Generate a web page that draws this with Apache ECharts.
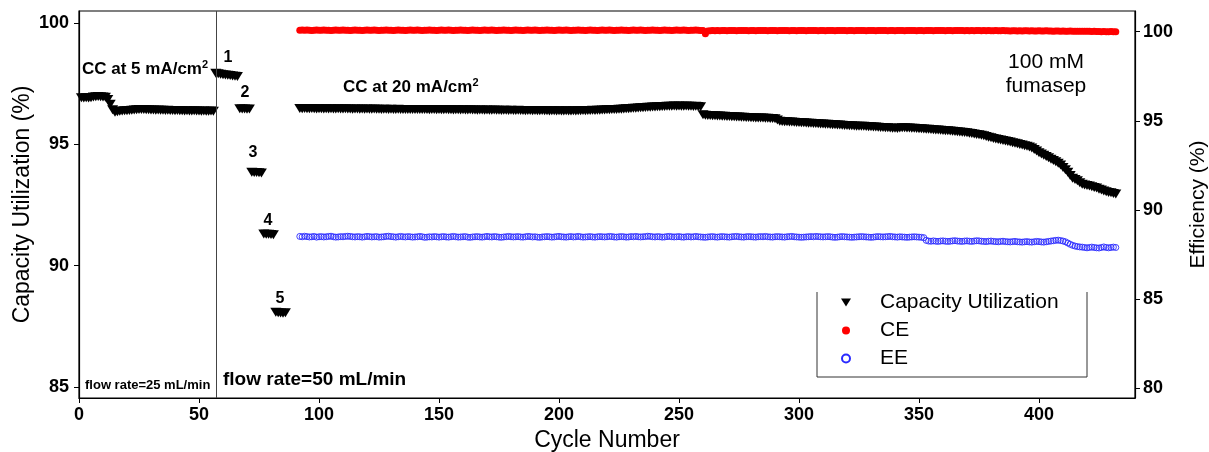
<!DOCTYPE html>
<html>
<head>
<meta charset="utf-8">
<script src="https://cdn.jsdelivr.net/npm/echarts@6/dist/echarts.min.js"></script>
<style>
  html, body { margin: 0; padding: 0; background: #fff; overflow: hidden; width: 100%; height: 100%; }
  #chart { width: 1209px; height: 452px; position: absolute; left: 0; top: 0; }
</style>
</head>
<body>
<div id="chart"></div>
<script>
// Cycling of a 100 mM cell with a fumasep membrane.
// Capacity utilization (left axis) and coulombic / energy efficiency (right axis).

const FONT = '"Liberation Sans", Arial, sans-serif';

// Tick labels
const xTicks = [0, 50, 100, 150, 200, 250, 300, 350, 400];
const leftTicks = [85, 90, 95, 100];
const rightTicks = [80, 85, 90, 95, 100];

// Stage 1: CC at 5 mA/cm², flow rate 25 mL/min (cycles 1-56)
const stage1Start = 1;
const stage1CU = [
  96.92, 96.91, 96.92, 96.91, 96.92, 96.95, 96.96, 96.97, 96.96, 96.95,
  96.94, 96.85, 96.65, 96.42, 96.32, 96.34, 96.36, 96.37, 96.38, 96.38,
  96.39, 96.40, 96.41, 96.42, 96.43, 96.44, 96.43, 96.42, 96.42, 96.41,
  96.41, 96.40, 96.41, 96.40, 96.40, 96.39, 96.40, 96.39, 96.39, 96.38,
  96.39, 96.38, 96.38, 96.37, 96.38, 96.37, 96.37, 96.38, 96.37, 96.37,
  96.36, 96.37, 96.36, 96.36, 96.37, 96.36
];

// Rate steps 1-5 at 50 mL/min
const stepStarts = [57, 67, 72, 77, 82];
const stepCU = [
  [97.93, 97.91, 97.89, 97.87, 97.86, 97.85, 97.84, 97.82, 97.81, 97.79],
  [96.47, 96.46, 96.46, 96.45, 96.46],
  [93.85, 93.84, 93.84, 93.83, 93.82],
  [91.30, 91.29, 91.29, 91.28, 91.27],
  [88.08, 88.06, 88.05, 88.04, 88.06]
];

// Long run: CC at 20 mA/cm², 50 mL/min (cycles 92-432)
const mainStart = 92;
const mainCU = [
  96.48, 96.47, 96.48, 96.47, 96.47, 96.48, 96.47, 96.46, 96.47, 96.47,
  96.46, 96.47, 96.46, 96.47, 96.46, 96.46, 96.47, 96.46, 96.46, 96.47,
  96.46, 96.46, 96.45, 96.46, 96.46, 96.45, 96.46, 96.45, 96.46, 96.45,
  96.45, 96.46, 96.45, 96.45, 96.44, 96.45, 96.45, 96.44, 96.45, 96.44,
  96.44, 96.45, 96.44, 96.44, 96.43, 96.44, 96.44, 96.43, 96.44, 96.43,
  96.43, 96.44, 96.43, 96.43, 96.42, 96.43, 96.43, 96.42, 96.43, 96.42,
  96.42, 96.43, 96.42, 96.42, 96.41, 96.42, 96.42, 96.41, 96.42, 96.41,
  96.41, 96.42, 96.41, 96.41, 96.40, 96.41, 96.41, 96.40, 96.41, 96.40,
  96.40, 96.41, 96.40, 96.40, 96.39, 96.40, 96.40, 96.39, 96.40, 96.39,
  96.39, 96.40, 96.39, 96.39, 96.38, 96.39, 96.39, 96.38, 96.39, 96.38,
  96.38, 96.39, 96.38, 96.38, 96.37, 96.38, 96.38, 96.37, 96.38, 96.37,
  96.37, 96.38, 96.37, 96.37, 96.38, 96.37, 96.38, 96.38, 96.39, 96.38,
  96.39, 96.39, 96.40, 96.39, 96.40, 96.40, 96.41, 96.41, 96.42, 96.42,
  96.43, 96.43, 96.44, 96.45, 96.45, 96.46, 96.47, 96.47, 96.48, 96.49,
  96.49, 96.50, 96.51, 96.51, 96.52, 96.53, 96.53, 96.54, 96.54, 96.55,
  96.55, 96.56, 96.56, 96.57, 96.57, 96.57, 96.58, 96.57, 96.58, 96.57,
  96.57, 96.58, 96.57, 96.57, 96.56, 96.57, 96.56, 96.55, 96.22, 96.20,
  96.19, 96.19, 96.18, 96.18, 96.17, 96.17, 96.16, 96.16, 96.15, 96.15,
  96.14, 96.14, 96.13, 96.13, 96.12, 96.12, 96.11, 96.11, 96.10, 96.10,
  96.09, 96.09, 96.08, 96.08, 96.07, 96.07, 96.06, 96.06, 96.05, 96.00,
  95.95, 95.94, 95.93, 95.93, 95.92, 95.92, 95.91, 95.90, 95.90, 95.89,
  95.89, 95.88, 95.87, 95.87, 95.86, 95.86, 95.85, 95.84, 95.84, 95.83,
  95.83, 95.82, 95.81, 95.81, 95.80, 95.80, 95.79, 95.78, 95.78, 95.77,
  95.77, 95.76, 95.75, 95.75, 95.74, 95.74, 95.73, 95.72, 95.72, 95.71,
  95.71, 95.70, 95.69, 95.69, 95.68, 95.68, 95.67, 95.66, 95.66, 95.65,
  95.67, 95.68, 95.68, 95.67, 95.67, 95.66, 95.66, 95.65, 95.64, 95.64,
  95.63, 95.62, 95.62, 95.61, 95.60, 95.59, 95.59, 95.58, 95.57, 95.56,
  95.56, 95.55, 95.54, 95.53, 95.52, 95.51, 95.50, 95.49, 95.48, 95.46,
  95.45, 95.43, 95.41, 95.39, 95.37, 95.35, 95.32, 95.29, 95.27, 95.24,
  95.22, 95.20, 95.18, 95.16, 95.14, 95.12, 95.10, 95.07, 95.04, 95.02,
  94.99, 94.97, 94.94, 94.92, 94.89, 94.85, 94.79, 94.72, 94.65, 94.60,
  94.55, 94.50, 94.45, 94.38, 94.33, 94.28, 94.22, 94.15, 94.05, 93.95,
  93.85, 93.72, 93.60, 93.55, 93.50, 93.42, 93.36, 93.32, 93.30, 93.28,
  93.25, 93.22, 93.20, 93.15, 93.12, 93.08, 93.05, 93.02, 93.00, 92.97,
  92.95
];

const mainCE = [
  100.08, 100.09, 100.08, 100.09, 100.08, 100.07, 100.08, 100.09, 100.08, 100.08,
  100.09, 100.08, 100.08, 100.07, 100.08, 100.09, 100.08, 100.08, 100.09, 100.08,
  100.08, 100.07, 100.08, 100.09, 100.08, 100.08, 100.07, 100.08, 100.09, 100.08,
  100.08, 100.09, 100.08, 100.07, 100.08, 100.08, 100.09, 100.08, 100.08, 100.07,
  100.08, 100.09, 100.08, 100.08, 100.07, 100.08, 100.09, 100.08, 100.08, 100.09,
  100.08, 100.07, 100.08, 100.08, 100.09, 100.08, 100.08, 100.07, 100.08, 100.09,
  100.08, 100.08, 100.09, 100.08, 100.07, 100.08, 100.08, 100.09, 100.08, 100.08,
  100.07, 100.08, 100.09, 100.08, 100.08, 100.07, 100.08, 100.09, 100.08, 100.08,
  100.09, 100.08, 100.07, 100.08, 100.08, 100.09, 100.08, 100.08, 100.07, 100.08,
  100.09, 100.08, 100.08, 100.07, 100.08, 100.09, 100.08, 100.08, 100.09, 100.08,
  100.07, 100.08, 100.08, 100.09, 100.08, 100.08, 100.07, 100.08, 100.09, 100.08,
  100.08, 100.09, 100.08, 100.07, 100.08, 100.08, 100.09, 100.08, 100.08, 100.07,
  100.08, 100.09, 100.08, 100.08, 100.07, 100.08, 100.09, 100.08, 100.08, 100.09,
  100.08, 100.07, 100.08, 100.08, 100.09, 100.08, 100.08, 100.07, 100.08, 100.09,
  100.08, 100.08, 100.09, 100.08, 100.07, 100.08, 100.08, 100.09, 100.08, 100.08,
  100.07, 100.08, 100.09, 100.08, 100.08, 100.07, 100.08, 100.09, 100.08, 100.08,
  100.09, 100.08, 100.07, 100.08, 100.08, 100.09, 100.08, 100.07, 100.06, 99.88,
  100.04, 100.05, 100.06, 100.05, 100.06, 100.05, 100.06, 100.06, 100.05, 100.06,
  100.07, 100.06, 100.05, 100.06, 100.06, 100.07, 100.06, 100.05, 100.06, 100.06,
  100.05, 100.06, 100.07, 100.06, 100.06, 100.05, 100.06, 100.07, 100.06, 100.05,
  100.06, 100.06, 100.07, 100.06, 100.05, 100.06, 100.06, 100.05, 100.06, 100.07,
  100.06, 100.05, 100.06, 100.06, 100.07, 100.06, 100.05, 100.06, 100.06, 100.05,
  100.06, 100.07, 100.06, 100.05, 100.06, 100.06, 100.07, 100.06, 100.05, 100.06,
  100.06, 100.05, 100.06, 100.07, 100.06, 100.06, 100.05, 100.06, 100.07, 100.06,
  100.05, 100.06, 100.06, 100.07, 100.06, 100.05, 100.06, 100.06, 100.05, 100.06,
  100.07, 100.06, 100.05, 100.06, 100.06, 100.07, 100.06, 100.05, 100.06, 100.06,
  100.05, 100.06, 100.07, 100.06, 100.05, 100.06, 100.06, 100.07, 100.06, 100.05,
  100.06, 100.06, 100.05, 100.06, 100.07, 100.06, 100.06, 100.05, 100.06, 100.05,
  100.06, 100.05, 100.06, 100.06, 100.05, 100.06, 100.05, 100.06, 100.05, 100.05,
  100.06, 100.05, 100.05, 100.06, 100.05, 100.05, 100.04, 100.05, 100.05, 100.04,
  100.05, 100.04, 100.05, 100.05, 100.04, 100.05, 100.04, 100.04, 100.05, 100.04,
  100.04, 100.05, 100.04, 100.04, 100.03, 100.04, 100.04, 100.03, 100.04, 100.03,
  100.03, 100.04, 100.03, 100.03, 100.02, 100.03, 100.02, 100.02, 100.03, 100.02,
  100.01, 100.02, 100.01, 100.01, 100.00, 100.01, 100.00, 100.00, 100.01, 100.00,
  100.00
];

const mainEE = [
  88.52, 88.50, 88.53, 88.51, 88.49, 88.50, 88.52, 88.48, 88.50, 88.51,
  88.49, 88.50, 88.52, 88.53, 88.50, 88.48, 88.49, 88.51, 88.50, 88.52,
  88.53, 88.52, 88.50, 88.49, 88.51, 88.50, 88.48, 88.50, 88.52, 88.51,
  88.49, 88.50, 88.51, 88.48, 88.49, 88.50, 88.52, 88.53, 88.51, 88.50,
  88.48, 88.50, 88.52, 88.50, 88.49, 88.51, 88.50, 88.48, 88.49, 88.50,
  88.52, 88.50, 88.47, 88.48, 88.50, 88.49, 88.51, 88.50, 88.48, 88.50,
  88.51, 88.49, 88.48, 88.50, 88.52, 88.50, 88.48, 88.49, 88.50, 88.51,
  88.48, 88.47, 88.49, 88.50, 88.51, 88.49, 88.48, 88.50, 88.52, 88.50,
  88.49, 88.51, 88.50, 88.48, 88.47, 88.49, 88.50, 88.52, 88.50, 88.49,
  88.50, 88.51, 88.49, 88.48, 88.50, 88.52, 88.51, 88.49, 88.50, 88.48,
  88.47, 88.49, 88.50, 88.51, 88.50, 88.48, 88.49, 88.51, 88.52, 88.50,
  88.49, 88.48, 88.50, 88.51, 88.49, 88.50, 88.52, 88.50, 88.48, 88.49,
  88.50, 88.51, 88.49, 88.48, 88.50, 88.51, 88.50, 88.49, 88.50, 88.52,
  88.51, 88.49, 88.48, 88.50, 88.51, 88.50, 88.48, 88.49, 88.51, 88.50,
  88.52, 88.50, 88.49, 88.50, 88.51, 88.53, 88.52, 88.50, 88.49, 88.51,
  88.50, 88.48, 88.49, 88.51, 88.52, 88.50, 88.49, 88.50, 88.51, 88.49,
  88.48, 88.50, 88.51, 88.49, 88.50, 88.52, 88.50, 88.49, 88.48, 88.47,
  88.49, 88.50, 88.51, 88.49, 88.48, 88.50, 88.51, 88.50, 88.49, 88.48,
  88.50, 88.51, 88.52, 88.50, 88.49, 88.48, 88.50, 88.51, 88.50, 88.49,
  88.48, 88.50, 88.51, 88.50, 88.52, 88.50, 88.49, 88.48, 88.50, 88.51,
  88.50, 88.49, 88.48, 88.50, 88.51, 88.52, 88.50, 88.49, 88.48, 88.47,
  88.48, 88.49, 88.50, 88.51, 88.50, 88.52, 88.51, 88.50, 88.49, 88.50,
  88.51, 88.50, 88.48, 88.47, 88.48, 88.50, 88.51, 88.50, 88.49, 88.48,
  88.47, 88.48, 88.49, 88.50, 88.51, 88.50, 88.49, 88.48, 88.47, 88.48,
  88.50, 88.51, 88.50, 88.49, 88.50, 88.51, 88.52, 88.50, 88.49, 88.48,
  88.50, 88.49, 88.48, 88.47, 88.48, 88.49, 88.50, 88.49, 88.48, 88.47,
  88.45, 88.30, 88.26, 88.25, 88.27, 88.25, 88.24, 88.26, 88.27, 88.25,
  88.24, 88.25, 88.27, 88.28, 88.26, 88.25, 88.24, 88.26, 88.27, 88.25,
  88.24, 88.26, 88.28, 88.27, 88.25, 88.24, 88.23, 88.25, 88.26, 88.24,
  88.23, 88.22, 88.24, 88.25, 88.23, 88.22, 88.21, 88.23, 88.24, 88.22,
  88.21, 88.20, 88.22, 88.23, 88.21, 88.20, 88.22, 88.24, 88.23, 88.21,
  88.20, 88.22, 88.24, 88.26, 88.28, 88.30, 88.31, 88.29, 88.26, 88.22,
  88.15, 88.08, 88.02, 87.98, 87.95, 87.93, 87.92, 87.90, 87.88, 87.90,
  87.92, 87.90, 87.88, 87.87, 87.90, 87.93, 87.90, 87.88, 87.90, 87.92,
  87.90
];

// Pair consecutive cycle numbers with their values
function pairs(start, values) {
  return values.map((v, i) => [start + i, v]);
}

const cuData = pairs(stage1Start, stage1CU)
  .concat(...stepCU.map((seg, k) => pairs(stepStarts[k], seg)))
  .concat(pairs(mainStart, mainCU));
const ceData = pairs(mainStart, mainCE);
const eeData = pairs(mainStart, mainEE);

const DOWN_TRIANGLE = 'path://M0,0 L10,0 L5,8 Z';

const chart = echarts.init(document.getElementById('chart'), null, { renderer: 'canvas', width: 1209, height: 452 });

const tickLabel = { fontFamily: FONT, fontSize: 18, fontWeight: 'bold', color: '#000' };
const axisName = { fontFamily: FONT, fontSize: 23, color: '#000' };

const option = {
  animation: false,
  backgroundColor: '#fff',
  textStyle: { fontFamily: FONT },
  grid: {
    left: 79, right: 74, top: 11, bottom: 54,
    outerBoundsMode: 'none', containLabel: false,
    show: true, borderColor: '#000', borderWidth: 1.2, backgroundColor: 'transparent'
  },
  xAxis: {
    type: 'value', min: 0, max: 440, interval: 50,
    name: 'Cycle Number', nameLocation: 'middle', nameGap: 31, nameMoveOverlap: false,
    nameTextStyle: axisName,
    axisLine: { show: true, lineStyle: { color: '#000', width: 1.2 } },
    axisTick: { show: true, length: 5, lineStyle: { color: '#000' }, customValues: xTicks },
    axisLabel: Object.assign({ margin: 8, customValues: xTicks }, tickLabel),
    splitLine: { show: false }
  },
  yAxis: [
    {
      type: 'value', min: 84.547, max: 100.494, position: 'left',
      name: 'Capacity Utilization (%)', nameLocation: 'middle', nameGap: 45, nameRotate: 90,
      nameMoveOverlap: false,
      nameTextStyle: axisName,
      axisLine: { show: true, lineStyle: { color: '#000', width: 1.2 } },
      axisTick: { show: true, length: 5, lineStyle: { color: '#000' }, customValues: leftTicks },
      axisLabel: Object.assign({ margin: 10, customValues: leftTicks }, tickLabel),
      splitLine: { show: false }
    },
    {
      type: 'value', min: 79.46, max: 101.16, position: 'right',
      name: 'Efficiency (%)', nameLocation: 'middle', nameGap: 53, nameRotate: 90,
      nameMoveOverlap: false,
      nameTextStyle: Object.assign({}, axisName, { fontSize: 21 }),
      axisLine: { show: true, lineStyle: { color: '#000', width: 1.2 } },
      axisTick: { show: true, length: 5, lineStyle: { color: '#000' }, customValues: rightTicks },
      axisLabel: Object.assign({ margin: 8, customValues: rightTicks }, tickLabel),
      splitLine: { show: false }
    }
  ],
  legend: {
    orient: 'vertical', left: 841, top: 292,
    padding: 0, itemGap: 7, itemWidth: 14, itemHeight: 8,
    data: [
      { name: 'Capacity Utilization', icon: DOWN_TRIANGLE },
      { name: 'CE', icon: 'circle' },
      { name: 'EE', icon: 'circle' }
    ],
    formatter: name => '{g|}' + name,
    textStyle: { fontFamily: FONT, fontSize: 21, color: '#000', rich: { g: { width: 22 } } }
  },
  series: [
    {
      name: 'CE', type: 'scatter', yAxisIndex: 1, data: ceData,
      symbol: 'circle', symbolSize: 7,
      itemStyle: { color: '#ff0000', opacity: 1 }, z: 3
    },
    {
      name: 'EE', type: 'scatter', yAxisIndex: 1, data: eeData,
      symbol: 'circle', symbolSize: 6,
      itemStyle: { color: 'rgba(255,255,255,0)', borderColor: '#2a2aff', borderWidth: 0.9, opacity: 1 }, z: 3
    },
    {
      name: 'Capacity Utilization', type: 'scatter', yAxisIndex: 0, data: cuData,
      symbol: DOWN_TRIANGLE, symbolSize: [11, 9],
      itemStyle: { color: '#000', opacity: 1 }, z: 4,
      markLine: {
        silent: true, symbol: ['none', 'none'], label: { show: false },
        lineStyle: { color: '#444', width: 1, type: 'solid' },
        data: [{ xAxis: 57 }]
      }
    }
  ],
  graphic: [
    // legend frame (open at the top)
    {
      type: 'polyline', silent: true,
      shape: { points: [[817, 292], [817, 377], [1087, 377], [1087, 292]] },
      style: { stroke: '#333', lineWidth: 1, fill: null }
    },
    {
      type: 'text', left: 82, top: 59, silent: true,
      style: {
        text: '{a|CC at 5 mA/cm}{s|2}',
        rich: {
          a: { fontFamily: FONT, fontSize: 17, fontWeight: 'bold', fill: '#000', lineHeight: 20 },
          s: { fontFamily: FONT, fontSize: 11, fontWeight: 'bold', fill: '#000', verticalAlign: 'top', lineHeight: 20 }
        }
      }
    },
    {
      type: 'text', left: 343, top: 77, silent: true,
      style: {
        text: '{a|CC at 20 mA/cm}{s|2}',
        rich: {
          a: { fontFamily: FONT, fontSize: 17, fontWeight: 'bold', fill: '#000', lineHeight: 20 },
          s: { fontFamily: FONT, fontSize: 11, fontWeight: 'bold', fill: '#000', verticalAlign: 'top', lineHeight: 20 }
        }
      }
    },
    { type: 'text', x: 228, y: 58, silent: true, style: { text: '1', fontFamily: FONT, fontSize: 16, fontWeight: 'bold', fill: '#000', align: 'center', verticalAlign: 'middle' } },
    { type: 'text', x: 245, y: 93, silent: true, style: { text: '2', fontFamily: FONT, fontSize: 16, fontWeight: 'bold', fill: '#000', align: 'center', verticalAlign: 'middle' } },
    { type: 'text', x: 253, y: 153, silent: true, style: { text: '3', fontFamily: FONT, fontSize: 16, fontWeight: 'bold', fill: '#000', align: 'center', verticalAlign: 'middle' } },
    { type: 'text', x: 268, y: 221, silent: true, style: { text: '4', fontFamily: FONT, fontSize: 16, fontWeight: 'bold', fill: '#000', align: 'center', verticalAlign: 'middle' } },
    { type: 'text', x: 280, y: 299, silent: true, style: { text: '5', fontFamily: FONT, fontSize: 16, fontWeight: 'bold', fill: '#000', align: 'center', verticalAlign: 'middle' } },
    { type: 'text', x: 1046, y: 62, silent: true, style: { text: '100 mM', fontFamily: FONT, fontSize: 21, fill: '#000', align: 'center', verticalAlign: 'middle' } },
    { type: 'text', x: 1046, y: 86, silent: true, style: { text: 'fumasep', fontFamily: FONT, fontSize: 21, fill: '#000', align: 'center', verticalAlign: 'middle' } },
    { type: 'text', x: 85, y: 385, silent: true, style: { text: 'flow rate=25 mL/min', fontFamily: FONT, fontSize: 13, fontWeight: 'bold', fill: '#000', align: 'left', verticalAlign: 'middle' } },
    { type: 'text', x: 223, y: 380, silent: true, style: { text: 'flow rate=50 mL/min', fontFamily: FONT, fontSize: 19, fontWeight: 'bold', fill: '#000', align: 'left', verticalAlign: 'middle' } }
  ]
};

chart.setOption(option);
</script>
</body>
</html>
